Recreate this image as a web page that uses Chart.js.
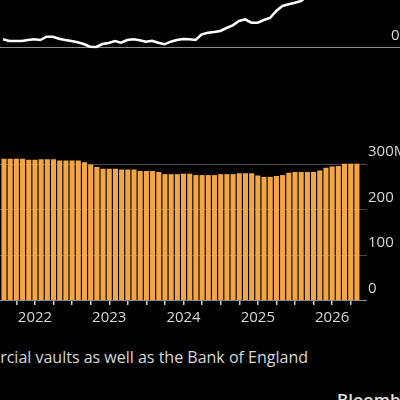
<!DOCTYPE html>
<html><head><meta charset="utf-8">
<script src="https://cdn.jsdelivr.net/npm/chart.js@4"></script>
<style>
html,body{margin:0;padding:0;background:#000;width:400px;height:400px;overflow:hidden;position:relative;font-family:"Open Sans",sans-serif}
#c1{position:absolute;left:0;top:0}
#c2{position:absolute;left:0;top:141px}
#note{position:absolute;right:92px;top:346px;color:#d8d8d8;font-size:16px;white-space:nowrap}
#brand{position:absolute;left:337px;top:388px;color:#e0e0e0;font-size:17px;font-weight:600;white-space:nowrap}
</style></head><body>
<canvas id="c1" width="400" height="60" style="width:400px;height:60px"></canvas>
<canvas id="c2" width="400" height="199" style="width:400px;height:199px"></canvas>
<div id="note">Note: Includes commercial vaults as well as the Bank of England</div>
<div id="brand">Bloomberg</div>
<script>
// Monthly categories Aug 2021 .. May 2026
const months = [];
for (let y = 2021, m = 8; months.length < 58; m++) { if (m > 12) { m = 1; y++; } months.push(y + '-' + String(m).padStart(2,'0')); }
const barValues = [311,311,311,311,309,309,310,310,310,307,307,307,307,303,298,293,289,289,289,287,287,287,284,284,284,282,277,277,277,278,278,275,275,275,275,277,277,277,279,279,279,274,271,271,273,275,280,282,282,282,282,285,291,294,295,300,300,300];
const lineValues = [7.7,6,6,6,7,7.7,7,10.3,10.3,8.3,7,6,4.7,3,0.3,0,3,4,6,4.3,7,7.7,6.7,5.3,6.3,4.3,2.7,5.3,7,8,7.7,7,12.7,14.3,15,16,19,21.7,26,27.7,24.3,24.3,27,29,36,41,42.7,44.3,46,51,55];
const yTicksBottom = [0,100,200,300];
const yLabelsBottom = ['0','100','200','300M'];
const yTicksTop = [0];
const yLabelsTop = ['0'];

function gridPlugin(ticks, labels, lineRight, labelX, font) {
  return {
    id: 'g',
    beforeDatasetsDraw(chart) {
      const ctx = chart.ctx, ys = chart.scales.y;
      ctx.save();
      ticks.forEach(v => {
        const p = Math.round(ys.getPixelForValue(v)) + 0.5;
        ctx.strokeStyle = v === 0 ? '#8a8a8a' : '#4a4a4a';
        ctx.lineWidth = 1;
        ctx.beginPath(); ctx.moveTo(0, p); ctx.lineTo(lineRight, p); ctx.stroke();
      });
      ctx.restore();
    },
    afterDraw(chart) {
      const ctx = chart.ctx, ys = chart.scales.y;
      ctx.save();
      ctx.fillStyle = '#d8d8d8'; ctx.font = font; ctx.textBaseline = 'bottom'; ctx.textAlign = 'left';
      ticks.forEach((v, i) => ctx.fillText(labels[i], labelX, ys.getPixelForValue(v) - 4));
      ctx.restore();
    }
  };
}

new Chart(document.getElementById('c1'), {
  type: 'line',
  data: { labels: months, datasets: [{ data: lineValues, borderColor: '#ffffff', borderWidth: 2.5, pointRadius: 0, tension: 0 }] },
  options: {
    responsive: false, animation: false, devicePixelRatio: 1,
    layout: { padding: { left: 0, right: 40, top: 0, bottom: 0 } },
    plugins: { legend: { display: false }, tooltip: { enabled: false } },
    scales: {
      x: { display: false, offset: true },
      y: { display: false, min: -13, max: 47 }
    }
  },
  plugins: [gridPlugin(yTicksTop, yLabelsTop, 400, 391, '15px "Open Sans"')]
});

new Chart(document.getElementById('c2'), {
  type: 'bar',
  data: { labels: months, datasets: [{ data: barValues, backgroundColor: '#f2a645', barPercentage: 0.82, categoryPercentage: 1 }] },
  options: {
    responsive: false, animation: false, devicePixelRatio: 1,
    layout: { padding: { left: 0, right: 40, top: 0, bottom: 0 } },
    plugins: { legend: { display: false }, tooltip: { enabled: false } },
    scales: {
      x: {
        offset: true,
        afterFit(s) { s.height = 40; },
        border: { display: false },
        grid: {
          drawOnChartArea: false, drawTicks: true, tickLength: 5, offset: false,
          color: (c) => (c.index % 3 === 2) ? '#cfcfcf' : 'rgba(0,0,0,0)', lineWidth: 1.5
        },
        ticks: {
          autoSkip: false, maxRotation: 0, padding: 4, color: '#d8d8d8',
          font: { family: 'Open Sans', size: 15 },
          callback: (v, i) => months[i].endsWith('-01') ? months[i].slice(0,4) : ''
        }
      },
      y: { display: false, min: 0, max: 350 }
    }
  },
  plugins: [gridPlugin(yTicksBottom, yLabelsBottom, 367, 368, '15px "Open Sans"')]
});
</script>
</body></html>
